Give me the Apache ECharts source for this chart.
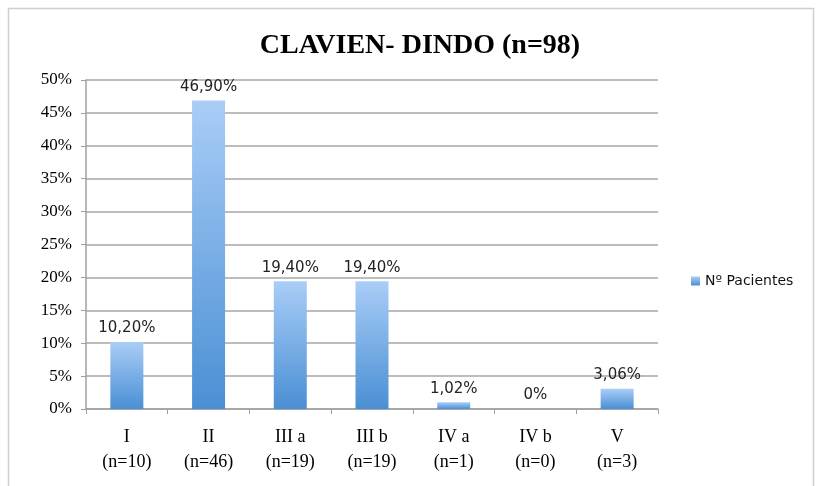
<!DOCTYPE html>
<html><head><meta charset="utf-8">
<script src="https://cdn.jsdelivr.net/npm/echarts@6/dist/echarts.min.js"></script>
<style>html,body{margin:0;padding:0;background:#fff}#c{width:821px;height:486px}</style>
</head><body><div id="c"></div>
<script>
const categories = ["I\n(n=10)", "II\n(n=46)", "III a\n(n=19)", "III b\n(n=19)", "IV a\n(n=1)", "IV b\n(n=0)", "V\n(n=3)"];
const values = [10.20, 46.90, 19.40, 19.40, 1.02, 0, 3.06];
const valueLabels = ["10,20%", "46,90%", "19,40%", "19,40%", "1,02%", "0%", "3,06%"];
const yTicks = [0, 5, 10, 15, 20, 25, 30, 35, 40, 45, 50];
const seriesName = "Nº Pacientes";
const titleText = "CLAVIEN- DINDO (n=98)";

const chart = echarts.init(document.getElementById('c'));
const grad = new echarts.graphic.LinearGradient(0, 0, 0, 1, [
  {offset: 0, color: '#a9cdf7'},
  {offset: 1, color: '#4a8fd4'}
]);
chart.setOption({
  animation: false,
  graphic: [{type: 'rect', shape: {x: 8.5, y: 8.5, width: 805, height: 500}, style: {fill: 'none', stroke: '#cfcfcf', lineWidth: 1.5}, silent: true}],
  title: {text: titleText, left: 415, top: 27, textAlign: 'center',
    textStyle: {fontFamily: 'Liberation Serif', fontWeight: 'bold', fontSize: 28, color: '#000'}},
  legend: {data: [seriesName], left: 686, top: 269, itemWidth: 9, itemHeight: 9, itemGap: 5,
    icon: 'rect', textStyle: {fontFamily: 'DejaVu Sans', fontSize: 14, color: '#111'}},
  grid: {left: 86, right: 163, top: 80, bottom: 77, containLabel: false},
  xAxis: {type: 'category', data: categories,
    axisLine: {lineStyle: {color: '#a0a0a0', width: 1.5}},
    axisTick: {show: true, length: 5, lineStyle: {color: '#a0a0a0'}},
    axisLabel: {fontFamily: 'Liberation Serif', fontSize: 18, color: '#000', lineHeight: 25, margin: 16, interval: 0}},
  yAxis: {type: 'value', min: 0, max: 50, interval: 5,
    axisLine: {show: true, lineStyle: {color: '#a0a0a0', width: 1.5}},
    axisTick: {show: true, length: 5, lineStyle: {color: '#a0a0a0'}},
    splitLine: {lineStyle: {color: '#bdbdbd', width: 2}},
    axisLabel: {formatter: v => yTicks.includes(v) ? v + '%' : '', fontFamily: 'Liberation Serif', fontSize: 17, color: '#000', margin: 14}},
  series: [{name: seriesName, type: 'bar', barWidth: 33,
    data: values,
    itemStyle: {color: grad},
    label: {show: true, position: 'top', distance: 6, formatter: p => valueLabels[p.dataIndex],
      fontFamily: 'DejaVu Sans', fontSize: 15, color: '#222'}}]
});
</script></body></html>
